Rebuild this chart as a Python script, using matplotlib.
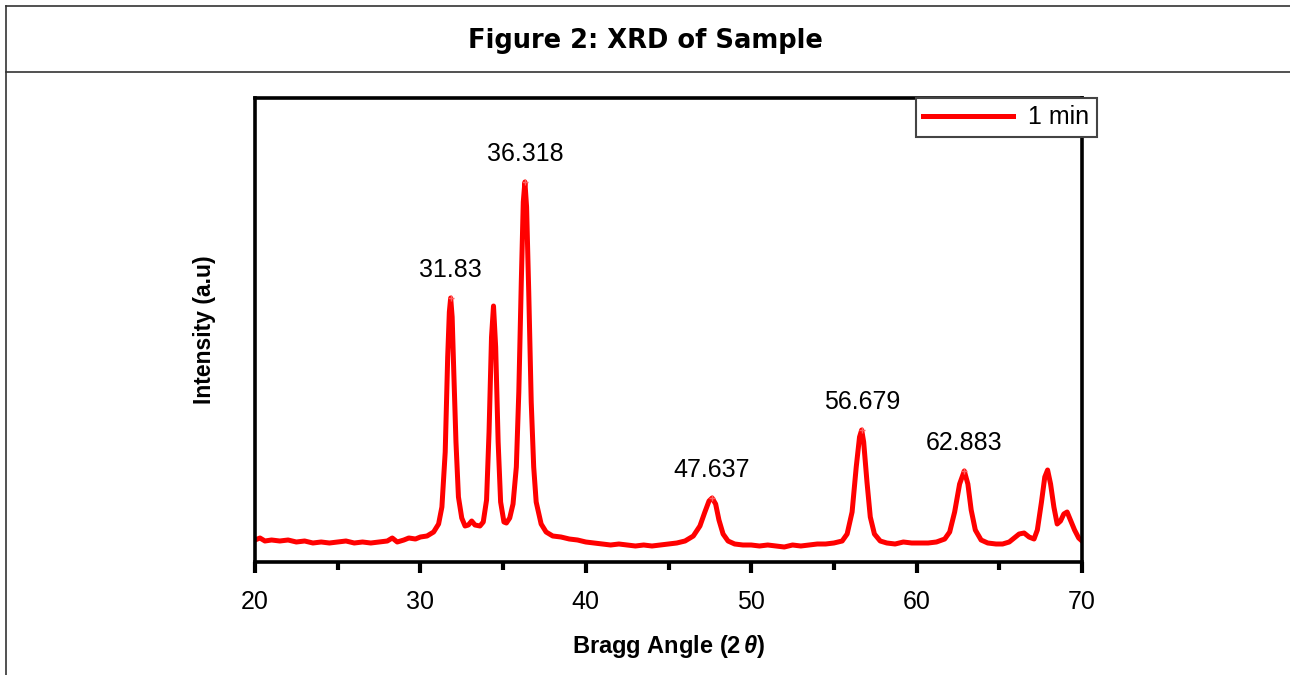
import matplotlib as mpl
import matplotlib.pyplot as plt
from matplotlib.lines import Line2D

mpl.rcParams['mathtext.fontset'] = 'custom'
mpl.rcParams['mathtext.it'] = 'Liberation Sans:bold:italic'
mpl.rcParams['mathtext.rm'] = 'Liberation Sans:bold'

# diffraction pattern (2theta, intensity a.u.)
two_theta = [20.0, 20.3, 20.6, 21.0, 21.5, 22.0, 22.5, 23.0, 23.5, 24.0, 24.5, 25.0,
             25.5, 26.0, 26.5, 27.0, 27.5, 28.0, 28.3, 28.6, 29.0, 29.3, 29.7, 30.0,
             30.4, 30.8, 31.1, 31.3, 31.5, 31.65, 31.75, 31.83, 31.92, 32.0, 32.15, 32.3,
             32.5, 32.7, 32.9, 33.1, 33.3, 33.6, 33.8, 34.0, 34.15, 34.3, 34.42, 34.55,
             34.7, 34.85, 35.05, 35.2, 35.4, 35.6, 35.8, 35.95, 36.1, 36.22, 36.318, 36.42,
             36.55, 36.7, 36.85, 37.0, 37.3, 37.6, 38.0, 38.5, 39.0, 39.5, 40.0, 40.5,
             41.0, 41.5, 42.0, 42.5, 43.0, 43.5, 44.0, 44.5, 45.0, 45.5, 46.0, 46.5,
             46.9, 47.2, 47.45, 47.637, 47.85, 48.05, 48.3, 48.6, 49.0, 49.5, 50.0, 50.5,
             51.0, 51.5, 52.0, 52.5, 53.0, 53.5, 54.0, 54.5, 55.0, 55.5, 55.8, 56.1,
             56.35, 56.55, 56.679, 56.8, 57.0, 57.2, 57.45, 57.8, 58.2, 58.7, 59.2, 59.7,
             60.2, 60.7, 61.2, 61.7, 62.0, 62.3, 62.6, 62.883, 63.1, 63.3, 63.55, 63.9,
             64.3, 64.8, 65.2, 65.6, 65.9, 66.2, 66.5, 66.8, 67.1, 67.3, 67.55, 67.75,
             67.92, 68.1, 68.3, 68.5, 68.7, 68.9, 69.1, 69.3, 69.55, 69.8, 70.0]
intensity = [22, 24, 21, 22, 21, 22, 20, 21, 19, 20, 19, 20,
             21, 19, 20, 19, 20, 21, 24, 20, 22, 24, 23, 25,
             26, 30, 38, 55, 110, 205, 250, 264, 245, 200, 120, 65,
             44, 36, 37, 41, 37, 36, 40, 62, 130, 225, 256, 215,
             120, 60, 40, 39, 44, 58, 95, 170, 280, 360, 380, 355,
             270, 160, 95, 60, 38, 30, 26, 25, 23, 22, 20, 19,
             18, 17, 18, 17, 16, 17, 16, 17, 18, 19, 21, 26,
             36, 50, 61, 64, 58, 42, 28, 21, 18, 17, 17, 16,
             17, 16, 15, 17, 16, 17, 18, 18, 19, 21, 28, 50,
             95, 125, 132, 120, 80, 45, 28, 21, 19, 18, 20, 19,
             19, 19, 20, 23, 30, 50, 78, 91, 78, 52, 32, 22,
             19, 18, 18, 20, 24, 28, 29, 25, 23, 32, 60, 85,
             92, 78, 55, 38, 41, 48, 50, 42, 32, 24, 21]

peak_pos = [31.83, 36.318, 47.637, 56.679, 62.883]
peak_labels = ['31.83', '36.318', '47.637', '56.679', '62.883']

fig = plt.figure(figsize=(12.9, 6.75), dpi=100)

# outer frame and title bar
W, H = 1290, 675
frame_kw = dict(color='#333333', linewidth=1.2, transform=fig.transFigure)
fig.add_artist(Line2D([6 / W, 1.0], [1 - 6 / H, 1 - 6 / H], **frame_kw))
fig.add_artist(Line2D([6 / W, 6 / W], [0.0, 1 - 6 / H], **frame_kw))
fig.add_artist(Line2D([6 / W, 1.0], [1 - 72 / H, 1 - 72 / H], **frame_kw))
fig.text(0.5, 1 - 41 / H, 'Figure 2: XRD of Sample', ha='center', va='center',
         fontsize=18.5, fontweight='bold', family='DejaVu Sans')

ax = fig.add_axes([255 / W, 1 - 562 / H, (1082 - 255) / W, (562 - 98) / H])
ax.plot(two_theta, intensity, color='#ff0000', linewidth=3.6, label='1 min',
        solid_joinstyle='round')

for pos, lab in zip(peak_pos, peak_labels):
    y = intensity[two_theta.index(pos)]
    ax.plot(pos, y, marker='+', color='#ff6060', markersize=5, markeredgewidth=1)
    ax.annotate(lab, (pos, y), xytext=(0, 20), textcoords='offset points',
                ha='center', va='center', fontsize=18, family='Liberation Sans')

ax.set_xlim(20, 70)
ax.set_ylim(0, 464)
ax.set_xticks([20, 30, 40, 50, 60, 70])
ax.set_xticks([25, 35, 45, 55, 65], minor=True)
ax.set_yticks([])
ax.tick_params(axis='x', which='major', direction='out', length=8, width=3,
               labelsize=18, pad=12)
ax.tick_params(axis='x', which='minor', direction='out', length=6, width=3)
for lab in ax.get_xticklabels():
    lab.set_family('Liberation Sans')
for sp in ax.spines.values():
    sp.set_linewidth(2.6)

ax.set_xlabel(r'Bragg Angle (2$\,\theta$)', fontsize=17, fontweight='bold',
              family='Liberation Sans', labelpad=14)
ax.set_ylabel('Intensity (a.u)', fontsize=16.5, fontweight='bold',
              family='Liberation Sans', labelpad=28)

leg = ax.legend(loc='upper right', bbox_to_anchor=(1097 / W, 1 - 98 / H),
                bbox_transform=fig.transFigure, fancybox=False, borderaxespad=0,
                handlelength=3.6, prop={'family': 'Liberation Sans', 'size': 18},
                borderpad=0.3, handletextpad=0.6)
leg.get_frame().set_edgecolor('#444444')
leg.get_frame().set_linewidth(1.5)
leg.get_frame().set_alpha(1)

fig.savefig('out.png', dpi=100)
